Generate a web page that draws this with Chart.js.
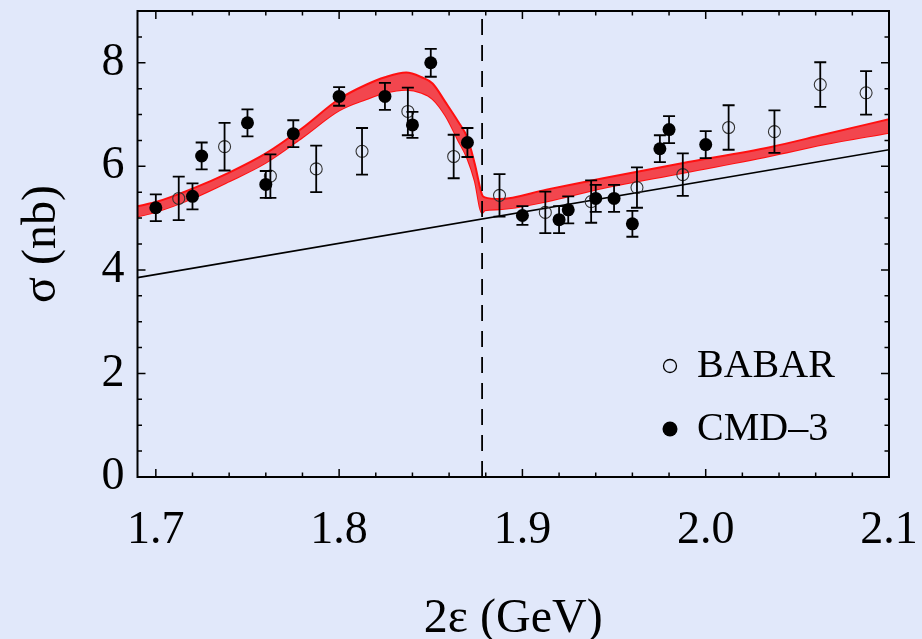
<!DOCTYPE html>
<html>
<head>
<meta charset="utf-8">
<script src="https://cdn.jsdelivr.net/npm/chart.js@4.4.0/dist/chart.umd.min.js"></script>
<style>
  html, body { margin: 0; padding: 0; background: #e1e8fa; }
  #wrap { width: 922px; height: 639px; }
</style>
</head>
<body>
<div id="wrap"><canvas id="sigmaChart" width="922" height="639"></canvas></div>
<script>
// BABAR (open circles)
const babarX = [1.7125, 1.7375, 1.7625, 1.7875, 1.8125, 1.8375, 1.8625, 1.8875, 1.9125, 1.9375, 1.9625, 1.9875, 2.0125, 2.0375, 2.0625, 2.0875];
const babarY = [5.38, 6.38, 5.81, 5.95, 6.29, 7.06, 6.19, 5.44, 5.11, 5.32, 5.59, 5.84, 6.75, 6.67, 7.58, 7.42];
const babarErr = [0.42, 0.46, 0.42, 0.45, 0.45, 0.46, 0.42, 0.41, 0.40, 0.41, 0.39, 0.41, 0.43, 0.41, 0.43, 0.42];

// CMD-3 (filled circles)
const cmdX = [1.700, 1.720, 1.725, 1.750, 1.760, 1.775, 1.800, 1.825, 1.840, 1.850, 1.870, 1.900, 1.920, 1.925, 1.940, 1.950, 1.960, 1.975, 1.980, 2.000];
const cmdY = [5.20, 5.42, 6.20, 6.84, 5.65, 6.63, 7.35, 7.35, 6.80, 8.00, 6.46, 5.05, 4.97, 5.16, 5.38, 5.38, 4.89, 6.34, 6.71, 6.42];
const cmdErr = [0.26, 0.25, 0.26, 0.26, 0.26, 0.26, 0.18, 0.26, 0.25, 0.27, 0.28, 0.18, 0.26, 0.26, 0.26, 0.26, 0.25, 0.26, 0.26, 0.26];

// theory band (upper / lower edge)
const bandX = [1.69, 1.70, 1.72, 1.74, 1.76, 1.78, 1.80, 1.815, 1.825, 1.8366, 1.845, 1.851, 1.858, 1.865, 1.870, 1.874, 1.878, 1.8795, 1.8875, 1.913, 1.944, 1.987, 2.035, 2.064, 2.10];
const bandUpper = [5.23, 5.31, 5.57, 5.88, 6.25, 6.74, 7.30, 7.58, 7.72, 7.81, 7.72, 7.60, 7.24, 6.86, 6.55, 6.05, 5.45, 5.40, 5.37, 5.55, 5.77, 6.06, 6.37, 6.61, 6.91];
const bandLower = [5.03, 5.12, 5.38, 5.71, 6.07, 6.56, 7.08, 7.30, 7.42, 7.48, 7.42, 7.30, 6.98, 6.50, 6.15, 5.72, 5.10, 5.15, 5.17, 5.32, 5.58, 5.87, 6.20, 6.42, 6.65];

// smooth background (black line)
const bgX = [1.69, 2.10];
const bgY = [3.85, 6.32];

// threshold 2m
const thresholdX = 1.878;
const thresholdY = [0, 9];

// axes
const xTickValues = [1.7, 1.8, 1.9, 2.0, 2.1];
const yTickValues = [0, 2, 4, 6, 8];

const serif = '"Liberation Serif", "DejaVu Serif", serif';
const pts = (xs, ys) => xs.map((x, i) => ({ x: x, y: ys[i] }));
const noPad = s => { s.paddingLeft = 0; s.paddingRight = 0; s.paddingTop = 0; s.paddingBottom = 0; };

// error bars drawn through the scales
const errorBars = {
  id: 'errorBars',
  afterDatasetsDraw(chart) {
    const { ctx, scales: { x, y } } = chart;
    ctx.save();
    ctx.strokeStyle = '#000';
    ctx.lineWidth = 1.8;
    const draw = (xs, ys, es) => {
      xs.forEach((v, i) => {
        const px = x.getPixelForValue(v);
        const top = y.getPixelForValue(ys[i] + es[i]);
        const bot = y.getPixelForValue(ys[i] - es[i]);
        ctx.beginPath();
        ctx.moveTo(px, top); ctx.lineTo(px, bot);
        ctx.moveTo(px - 6, top); ctx.lineTo(px + 6, top);
        ctx.moveTo(px - 6, bot); ctx.lineTo(px + 6, bot);
        ctx.stroke();
      });
    };
    draw(babarX, babarY, babarErr);
    draw(cmdX, cmdY, cmdErr);
    ctx.restore();
  }
};

// frame with inward ticks on all four sides
const frameTicks = {
  id: 'frameTicks',
  afterDraw(chart) {
    const { ctx, chartArea: a, scales: { x, y } } = chart;
    ctx.save();
    ctx.strokeStyle = '#000';
    ctx.lineWidth = 1.5;
    ctx.beginPath();
    for (let i = 0; i <= 20; i++) {
      const px = x.getPixelForValue(1.7 + i * 0.02);
      const len = i % 5 === 0 ? 8 : 4.5;
      ctx.moveTo(px, a.bottom); ctx.lineTo(px, a.bottom - len);
      ctx.moveTo(px, a.top); ctx.lineTo(px, a.top + len);
    }
    for (let i = 0; i <= 18; i++) {
      const py = y.getPixelForValue(i * 0.5);
      const len = i % 4 === 0 ? 8 : 4.5;
      ctx.moveTo(a.left, py); ctx.lineTo(a.left + len, py);
      ctx.moveTo(a.right, py); ctx.lineTo(a.right - len, py);
    }
    ctx.stroke();
    ctx.lineWidth = 2;
    ctx.strokeRect(a.left, a.top, a.right - a.left, a.bottom - a.top);

    // legend, bottom right inside the frame
    const cx = a.right - 219;
    const rows = [
      { label: 'BABAR', y: a.bottom - 111, filled: false },
      { label: 'CMD\u20133', y: a.bottom - 48, filled: true }
    ];
    ctx.font = '40px ' + serif;
    ctx.fillStyle = '#000';
    ctx.textBaseline = 'alphabetic';
    rows.forEach(r => {
      ctx.beginPath();
      if (r.filled) {
        ctx.arc(cx, r.y, 7.5, 0, Math.PI * 2);
        ctx.fill();
      } else {
        ctx.lineWidth = 1.3;
        ctx.arc(cx, r.y, 6.5, 0, Math.PI * 2);
        ctx.stroke();
      }
      ctx.fillText(r.label, cx + 27, r.y + 11);
    });
    ctx.restore();
  }
};

new Chart(document.getElementById('sigmaChart').getContext('2d'), {
  type: 'scatter',
  data: {
    datasets: [
      {
        label: 'CMD\u20133',
        data: pts(cmdX, cmdY),
        pointStyle: 'circle',
        pointRadius: 6.5,
        backgroundColor: '#000',
        borderColor: '#000',
        borderWidth: 0
      },
      {
        label: 'BABAR',
        data: pts(babarX, babarY),
        pointStyle: 'circle',
        pointRadius: 6,
        backgroundColor: 'rgba(0,0,0,0)',
        borderColor: '#333',
        borderWidth: 1.1
      },
      {
        label: 'threshold',
        type: 'line',
        data: pts([thresholdX, thresholdX], thresholdY),
        borderColor: '#000',
        borderWidth: 1.8,
        borderDash: [16, 10],
        pointRadius: 0,
        fill: false
      },
      {
        label: 'background',
        type: 'line',
        data: pts(bgX, bgY),
        borderColor: '#000',
        borderWidth: 1.6,
        pointRadius: 0,
        fill: false
      },
      {
        label: 'band upper',
        type: 'line',
        data: pts(bandX, bandUpper),
        borderColor: '#ff1010',
        borderWidth: 2,
        pointRadius: 0,
        cubicInterpolationMode: 'monotone',
        backgroundColor: 'rgba(242,70,78,1)',
        fill: '+1'
      },
      {
        label: 'band lower',
        type: 'line',
        data: pts(bandX, bandLower),
        borderColor: '#ff1010',
        borderWidth: 2,
        pointRadius: 0,
        cubicInterpolationMode: 'monotone',
        fill: false
      }
    ]
  },
  options: {
    responsive: false,
    animation: false,
    layout: { padding: { top: 11, right: 33, left: 0, bottom: 0 } },
    plugins: {
      legend: { display: false },
      tooltip: { enabled: false }
    },
    scales: {
      x: {
        type: 'linear',
        min: 1.69,
        max: 2.1,
        afterBuildTicks: s => { s.ticks = xTickValues.map(v => ({ value: v })); },
        afterFit: s => { s.height = 162; noPad(s); },
        grid: { display: false, drawTicks: false },
        border: { display: false },
        ticks: {
          color: '#000',
          font: { family: serif, size: 46 },
          padding: 26,
          maxRotation: 0,
          autoSkip: false,
          callback: v => v.toFixed(1)
        },
        title: {
          display: true,
          text: '2\u03b5 (GeV)',
          color: '#000',
          font: { family: serif, size: 48, lineHeight: 1 },
          padding: { top: 0, bottom: -4 }
        }
      },
      y: {
        min: 0,
        max: 9,
        afterBuildTicks: s => { s.ticks = yTickValues.map(v => ({ value: v })); },
        afterFit: s => { s.width = 137.5; noPad(s); },
        grid: { display: false, drawTicks: false },
        border: { display: false },
        ticks: {
          color: '#000',
          font: { family: serif, size: 46 },
          padding: 13,
          callback: v => String(v)
        },
        title: {
          display: true,
          text: '\u03c3 (nb)',
          color: '#000',
          font: { family: serif, size: 48, lineHeight: 1 },
          padding: { top: 18, bottom: 0 }
        }
      }
    }
  },
  plugins: [errorBars, frameTicks]
});
</script>
</body>
</html>
